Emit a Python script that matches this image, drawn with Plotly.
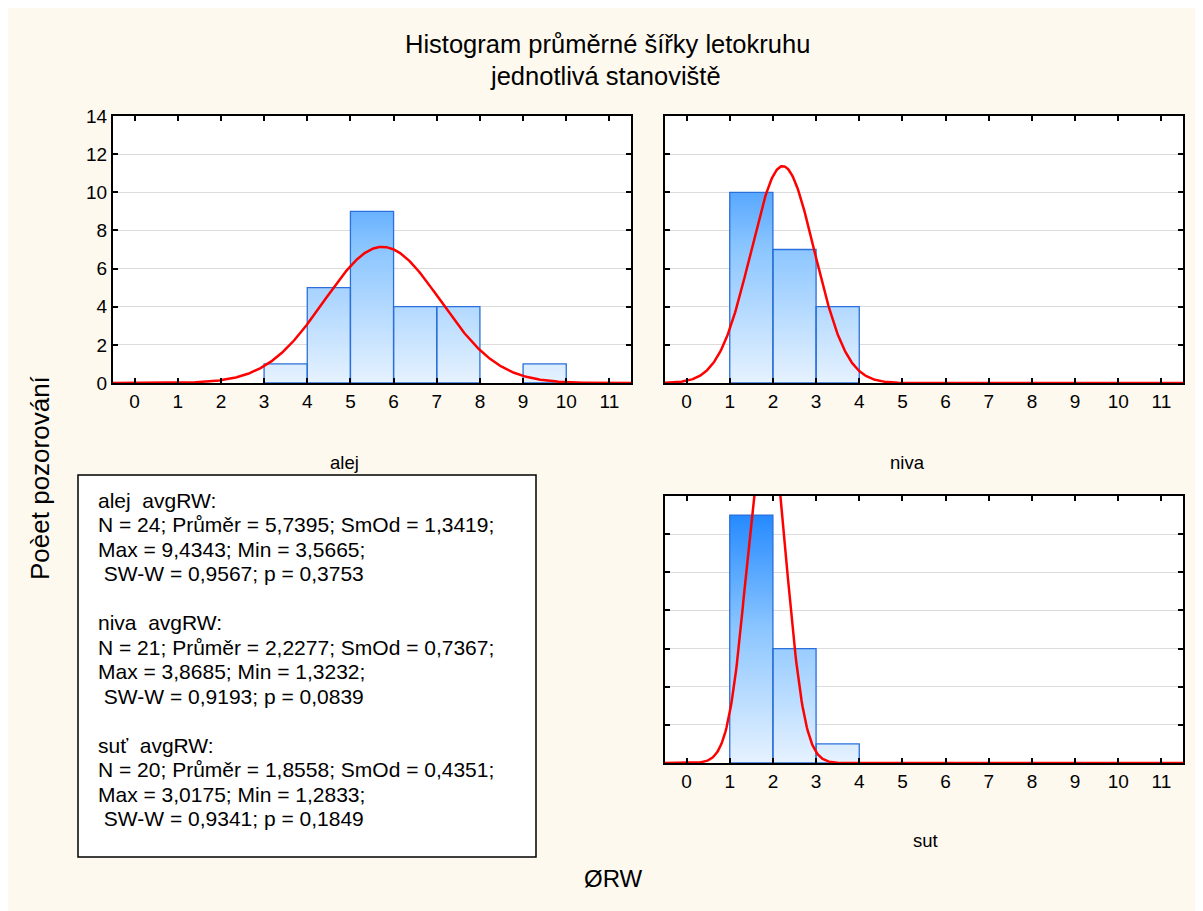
import numpy as np
import plotly.graph_objects as go

# ---------------- data ----------------
groups = ["alej", "niva", "sut"]
group_text_names = ["alej", "niva", "suť"]
bin_left = [0, 1, 2, 3, 4, 5, 6, 7, 8, 9, 10, 11]
bin_width = 1
alej_counts = [0, 0, 0, 1, 5, 9, 4, 4, 0, 1, 0, 0]
niva_counts = [0, 10, 7, 4, 0, 0, 0, 0, 0, 0, 0, 0]
sut_counts = [0, 13, 6, 1, 0, 0, 0, 0, 0, 0, 0, 0]
stat_n = [24, 21, 20]
stat_mean = [5.7395, 2.2277, 1.8558]
stat_sd = [1.3419, 0.7367, 0.4351]
stat_max = [9.4343, 3.8685, 3.0175]
stat_min = [3.5665, 1.3232, 1.2833]
stat_sww = [0.9567, 0.9193, 0.9341]
stat_p = [0.3753, 0.0839, 0.1849]
x_ticks = list(range(0, 12))
y_ticks = [0, 2, 4, 6, 8, 10, 12, 14]

title_line1 = "Histogram průměrné šířky letokruhu"
title_line2 = "jednotlivá stanoviště"
y_title = "Poèet pozorování"
x_title = "ØRW"

OFF = 8            # page offset of the figure inside the browser window
W, H = 1195, 903
FONT = "Arial, Liberation Sans, sans-serif"
CREAM = "#FEF9EF"


def px(x):
    return (x - OFF) / W


def py(y):
    return 1 - (y - OFF) / H


fig = go.Figure()

counts_all = [alej_counts, niva_counts, sut_counts]
axes = [("x", "y"), ("x2", "y2"), ("x3", "y3")]

for gi, (counts, (xa, ya)) in enumerate(zip(counts_all, axes)):
    xs, ys = [], []
    for left, c in zip(bin_left, counts):
        if c <= 0:
            continue
        r = left + bin_width
        xs += [left, left, r, r, left, None]
        ys += [0, c, c, 0, 0, None]
    fig.add_trace(go.Scatter(
        x=xs, y=ys, mode="lines", fill="toself",
        line=dict(color="#2a6fdb", width=1.3),
        fillgradient=dict(type="vertical", start=0, stop=14,
                          colorscale=[[0, "#e6f2ff"], [0.5, "#8cc6ff"], [1, "#1480ff"]]),
        xaxis=xa, yaxis=ya, showlegend=False, hoverinfo="skip",
    ))
    # fitted normal curve from N, mean, SD
    xc = np.linspace(-0.5, 11.5, 600)
    m, s, n = stat_mean[gi], stat_sd[gi], stat_n[gi]
    yc = n * bin_width / (s * np.sqrt(2 * np.pi)) * np.exp(-0.5 * ((xc - m) / s) ** 2)
    fig.add_trace(go.Scatter(
        x=xc, y=yc, mode="lines", line=dict(color="#ff0000", width=2.5),
        xaxis=xa, yaxis=ya, showlegend=False, hoverinfo="skip",
    ))

dom_x1 = [px(113), px(631)]
dom_x2 = [px(665), px(1183)]
dom_ytop = [py(383), py(116)]
dom_ybot = [py(763), py(496)]

axis_common = dict(showline=True, linewidth=2, linecolor="black", mirror="ticks",
                   ticks="inside", ticklen=5, tickwidth=2, tickcolor="black",
                   zeroline=False, automargin=False,
                   tickfont=dict(family=FONT, size=19, color="black"))

xcfg = dict(range=[-0.5, 11.5], tickvals=x_ticks, showgrid=False, **axis_common)
ycfg = dict(range=[0, 14], tickvals=y_ticks, showgrid=True, gridcolor="#dcdcdc",
            gridwidth=1, **axis_common)

fig.update_layout(
    xaxis=dict(domain=dom_x1, anchor="y", **xcfg),
    yaxis=dict(domain=dom_ytop, anchor="x", **ycfg),
    xaxis2=dict(domain=dom_x2, anchor="y2", **xcfg),
    yaxis2=dict(domain=dom_ytop, anchor="x2", showticklabels=False, **ycfg),
    xaxis3=dict(domain=dom_x2, anchor="y3", **xcfg),
    yaxis3=dict(domain=dom_ybot, anchor="x3", showticklabels=False, **ycfg),
)

# text lines of the stats box
def f(v):
    return f"{v:.4f}".replace(".", ",")


box_lines = []
for gi in range(3):
    box_lines.append(f"{group_text_names[gi]}\u00a0\u00a0avgRW:")
    box_lines.append(f"N = {stat_n[gi]}; Průměr = {f(stat_mean[gi])}; SmOd = {f(stat_sd[gi])};")
    box_lines.append(f"Max = {f(stat_max[gi])}; Min = {f(stat_min[gi])};")
    box_lines.append(f"\u00a0SW-W = {f(stat_sww[gi])}; p = {f(stat_p[gi])}")
    if gi < 2:
        box_lines.append("")

shapes = [
    dict(type="rect", xref="paper", yref="paper", x0=px(78), x1=px(536), y0=py(475), y1=py(857),
         fillcolor="white", line=dict(color="black", width=1.5), layer="below"),
]

annotations = [
    dict(text=title_line1, x=px(607), y=py(44), font=dict(family=FONT, size=25.5, color="black")),
    dict(text=title_line2, x=px(606), y=py(76), font=dict(family=FONT, size=25.5, color="black")),
    dict(text=groups[0], x=px(344), y=py(462), font=dict(family=FONT, size=18.5, color="black")),
    dict(text=groups[1], x=px(907), y=py(462), font=dict(family=FONT, size=18.5, color="black")),
    dict(text=groups[2], x=px(925), y=py(840), font=dict(family=FONT, size=18.5, color="black")),
    dict(text=y_title, x=px(40), y=py(478), textangle=-90, font=dict(family=FONT, size=26, color="black")),
    dict(text=x_title, x=px(614), y=py(878), font=dict(family=FONT, size=24, color="black")),
]
for i, line in enumerate(box_lines):
    if not line:
        continue
    annotations.append(dict(text=line, x=px(96), y=py(500 + 24.5 * i), xanchor="left",
                            font=dict(family=FONT, size=21, color="black")))

for a in annotations:
    a.setdefault("xanchor", "center")
    a.setdefault("yanchor", "middle")
    a["xref"] = "paper"
    a["yref"] = "paper"
    a["showarrow"] = False

fig.update_layout(
    template="none",
    width=W, height=H, autosize=False,
    margin=dict(l=0, r=0, t=0, b=0, pad=0, autoexpand=False),
    paper_bgcolor=CREAM, plot_bgcolor="white",
    shapes=shapes, annotations=annotations,
    font=dict(family=FONT, color="black"),
)

fig.write_html("out.html")
